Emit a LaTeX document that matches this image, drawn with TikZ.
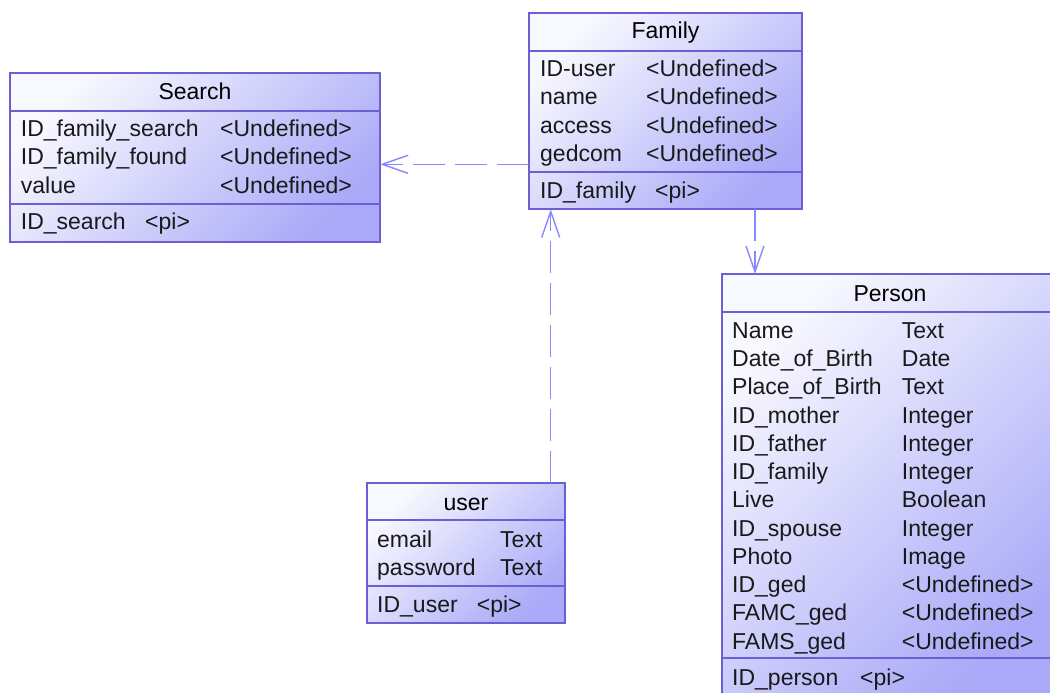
\documentclass[tikz,border=0pt]{standalone}
\usepackage{fontspec}
\setmainfont{Liberation Sans}
\usetikzlibrary{arrows.meta}

\definecolor{boxline}{HTML}{6C5ED3}
\definecolor{boxlight}{HTML}{F8F8FF}
\definecolor{boxdark}{HTML}{AAAAF8}
\definecolor{linkblue}{HTML}{8888FF}
\newcommand\umlfont{\fontsize{23bp}{28bp}\selectfont}

\tikzset{
  entity/.style={rectangle, draw=boxline, line width=1.7bp, inner sep=0pt, outer sep=0pt,
    anchor=north west, top color=boxlight, bottom color=boxdark, shading angle=45},
  divider/.style={draw=boxline, line width=1.7bp},
  title/.style={anchor=base, inner sep=0pt, font=\umlfont},
  field/.style={anchor=base west, inner sep=0pt, font=\umlfont, text=black!90},
  assoc/.style={draw=linkblue, line width=1.4bp, dash pattern=on 32bp off 10bp,
    -{Straight Barb[length=26bp,width=18bp,line width=1.4bp]}}
}

\begin{document}
\begin{tikzpicture}[x=1bp, y=-1bp]
\useasboundingbox (0,0) rectangle (1050,693);
\clip (0,0) rectangle (1050,693);

% ---------------- Search ----------------
\node[entity, minimum width=370bp, minimum height=168.4bp] (search) at (10,73.3) {};
\draw[divider] (search.west |- 0,110.7) -- (search.east |- 0,110.7);
\draw[divider] (search.west |- 0,204) -- (search.east |- 0,204);
\node[title] (search-t) at (195,100) {Search};
\node[field] (search-n1) at (20.7,136.5) {ID\_family\_search};
\node[field] (search-v1) at (220,136.5) {<Undefined>};
\node[field] (search-n2) at (20.7,164.8) {ID\_family\_found};
\node[field] (search-v2) at (220,164.8) {<Undefined>};
\node[field] (search-n3) at (20.7,193.1) {value};
\node[field] (search-v3) at (220,193.1) {<Undefined>};
\node[field] (search-k) at (20.7,229.9) {ID\_search};
\node[field] (search-kt) at (145,229.9) {<pi>};

% ---------------- Family ----------------
\node[entity, minimum width=272.4bp, minimum height=196bp] (family) at (529.3,13.3) {};
\draw[divider] (family.west |- 0,50.7) -- (family.east |- 0,50.7);
\draw[divider] (family.west |- 0,172.3) -- (family.east |- 0,172.3);
\node[title] (family-t) at (665.5,38.3) {Family};
\foreach \n/\t [count=\i] in {ID-user/<Undefined>, name/<Undefined>, access/<Undefined>, gedcom/<Undefined>}{
  \node[field] (family-n\i) at (540,{76.5+28.3*(\i-1)}) {\n};
  \node[field] (family-v\i) at (646,{76.5+28.3*(\i-1)}) {\t};
}
\node[field] (family-k) at (540,198.2) {ID\_family};
\node[field] (family-kt) at (655,198.2) {<pi>};

% ---------------- user ----------------
\node[entity, minimum width=198.3bp, minimum height=140bp] (user) at (366.7,482.7) {};
\draw[divider] (user.west |- 0,520) -- (user.east |- 0,520);
\draw[divider] (user.west |- 0,585.7) -- (user.east |- 0,585.7);
\node[title] (user-t) at (466,510) {user};
\node[field] (user-n1) at (377,547.3) {email};
\node[field] (user-v1) at (500,547.3) {Text};
\node[field] (user-n2) at (377,575.3) {password};
\node[field] (user-v2) at (500,575.3) {Text};
\node[field] (user-k) at (377,612.7) {ID\_user};
\node[field] (user-kt) at (476.7,612.7) {<pi>};

% ---------------- Person ----------------
\node[entity, minimum width=336.3bp, minimum height=422bp] (person) at (721.7,274) {};
\draw[divider] (person.west |- 0,311.7) -- (person.east |- 0,311.7);
\draw[divider] (person.west |- 0,658.3) -- (person.east |- 0,658.3);
\node[title] (person-t) at (890,301.7) {Person};
\foreach \n/\t [count=\i] in {Name/Text, Date\_of\_Birth/Date, Place\_of\_Birth/Text,
    ID\_mother/Integer, ID\_father/Integer, ID\_family/Integer, Live/Boolean,
    ID\_spouse/Integer, Photo/Image, ID\_ged/<Undefined>, FAMC\_ged/<Undefined>,
    FAMS\_ged/<Undefined>}{
  \node[field] (person-n\i) at (732,{338.3+28.25*(\i-1)}) {\n};
  \node[field] (person-v\i) at (901.7,{338.3+28.25*(\i-1)}) {\t};
}
\node[field] (person-k) at (732,685) {ID\_person};
\node[field] (person-kt) at (860,685) {<pi>};

% ---------------- associations ----------------
\coordinate (fs) at (0,164.3);
\coordinate (uf) at (550.7,0);
\coordinate (fp) at (755,0);
\draw[assoc] (family.west |- fs) -- (search.east |- fs);
\draw[assoc] (user.north -| uf) -- (family.south -| uf);
\draw[assoc] (family.south -| fp) -- (person.north -| fp);
\end{tikzpicture}
\end{document}
